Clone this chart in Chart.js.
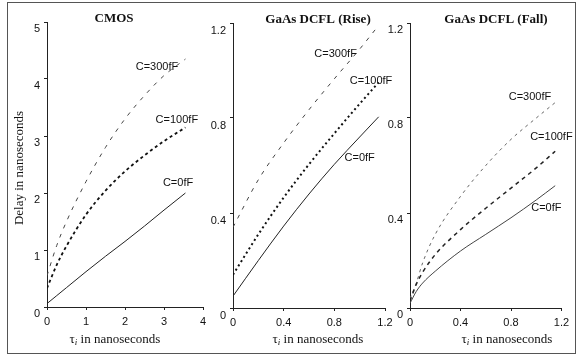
<!DOCTYPE html>
<html><head><meta charset="utf-8">
<script src="https://cdn.jsdelivr.net/npm/chart.js@4.4.1/dist/chart.umd.min.js"></script>
<style>
html,body{margin:0;padding:0;background:#fff;}
#wrap{position:relative;width:577px;height:359px;overflow:hidden;background:#fff;}
#wrap canvas{position:absolute;left:0;top:0;}
#frame{position:absolute;left:7px;top:2px;width:567px;height:350px;border:1px solid #555;pointer-events:none;}
</style></head><body>
<div id="wrap">
<canvas id="c1" width="577" height="359"></canvas>
<canvas id="c2" width="577" height="359"></canvas>
<canvas id="c3" width="577" height="359"></canvas>
<div id="frame"></div>
</div>
<script>
// ---- data ----
const cmosTau  = [0, 0.25, 0.5, 1, 1.5, 2, 2.5, 3, 3.55];
const cmos0    = [0.06, 0.20, 0.34, 0.62, 0.89, 1.15, 1.42, 1.70, 2.00];
const cmos100  = [0.33, 0.74, 1.07, 1.62, 2.04, 2.38, 2.66, 2.91, 3.15];
const cmos300  = [0.55, 1.08, 1.50, 2.20, 2.80, 3.30, 3.71, 4.06, 4.35];

const riseTau  = [0, 0.2, 0.4, 0.6, 0.8, 1.0, 1.15];
const rise0    = [0.05, 0.20, 0.345, 0.48, 0.605, 0.72, 0.805];
const rise100  = [0.14, 0.31, 0.465, 0.605, 0.735, 0.86, 0.95];
const rise300  = [0.34, 0.54, 0.695, 0.835, 0.965, 1.09, 1.19];

const fallTau  = [0, 0.05, 0.1, 0.2, 0.4, 0.6, 0.8, 1.0, 1.15];
const fall0    = [0.02, 0.07, 0.105, 0.155, 0.24, 0.31, 0.38, 0.455, 0.515];
const fall100  = [0.03, 0.10, 0.15, 0.225, 0.33, 0.42, 0.505, 0.59, 0.66];
const fall300  = [0.04, 0.105, 0.19, 0.31, 0.47, 0.60, 0.71, 0.80, 0.865];

const cmosTicksX = [0, 1, 2, 3, 4];
const cmosTicksY = [0, 1, 2, 3, 4, 5];
const gaasTicks  = [0, 0.4, 0.8, 1.2];

const seriesNames = ['C=0fF', 'C=100fF', 'C=300fF'];
const panelTitles = ['CMOS', 'GaAs DCFL (Rise)', 'GaAs DCFL (Fall)'];
const yAxisTitle = 'Delay in nanoseconds';
const xAxisTitle = ' in nanoseconds';

// ---- helpers ----
function pts(xs, ys) { return xs.map((x, i) => ({ x: x, y: ys[i] })); }

const textPlugin = {
  id: 'panelText',
  afterDraw(chart, args, o) {
    const ctx = chart.ctx, xs = chart.scales.x, ys = chart.scales.y;
    ctx.save();
    ctx.fillStyle = '#111';
    ctx.textBaseline = 'middle';
    ctx.font = 'bold 13px "Liberation Serif", serif';
    ctx.textAlign = 'center';
    ctx.fillText(o.title, o.titleX, o.titleY);
    const f1 = '13px "Liberation Serif", serif';
    const f2 = 'italic 9px "Liberation Serif", serif';
    ctx.font = f1; const wT = ctx.measureText('τ').width; const wR = ctx.measureText(xAxisTitle).width;
    ctx.font = f2; const wI = ctx.measureText('i').width;
    let x0 = o.xTitleX - (wT + wI + wR) / 2;
    ctx.textAlign = 'left';
    ctx.font = f1; ctx.fillText('τ', x0, o.xTitleY);
    ctx.font = f2; ctx.fillText('i', x0 + wT, o.xTitleY + 3);
    ctx.font = f1; ctx.fillText(xAxisTitle, x0 + wT + wI, o.xTitleY);
    ctx.textAlign = 'center';
    ctx.font = '11px "Liberation Sans", Arial, sans-serif';
    o.labels.forEach(l => ctx.fillText(l.text, xs.getPixelForValue(l.x), ys.getPixelForValue(l.y)));
    if (o.yTitle) {
      ctx.translate(o.yTitleX, o.yTitleY);
      ctx.rotate(-Math.PI / 2);
      ctx.font = f1;
      ctx.textAlign = 'center';
      ctx.fillText(o.yTitle, 0, 0);
    }
    ctx.restore();
  }
};

function makeScale(min, max, ticks, isY, labelOffset) {
  return {
    type: 'linear', min: min, max: max,
    afterBuildTicks: s => { s.ticks = ticks.map(v => ({ value: v })); },
    afterFit: s => { if (isY) s.width = 40; else s.height = 30; },
    grid: { display: true, drawOnChartArea: false, drawTicks: true, tickLength: 3, color: '#222', lineWidth: 1 },
    border: { display: true, color: '#222', width: 1 },
    ticks: {
      color: '#111', padding: isY ? 4 : 5, labelOffset: labelOffset,
      font: { family: '"Liberation Sans", Arial, sans-serif', size: 11 },
      callback: v => String(Math.round(v * 10) / 10),
      autoSkip: false, maxRotation: 0
    }
  };
}

function makePanel(id, cfg) {
  const W = 577, H = 359;
  new Chart(document.getElementById(id), {
    type: 'scatter',
    data: { datasets: cfg.datasets },
    options: {
      responsive: false, animation: false, devicePixelRatio: 1,
      layout: { padding: { left: cfg.left - 40, right: W - cfg.right, top: cfg.top, bottom: H - cfg.bottom - 30 } },
      plugins: { legend: { display: false }, tooltip: { enabled: false }, panelText: cfg.text },
      scales: {
        x: makeScale(cfg.xmin, cfg.xmax, cfg.xticks, false, 0),
        y: makeScale(cfg.ymin, cfg.ymax, cfg.yticks, true, cfg.yLabelOffset)
      },
      elements: { point: { radius: 0 } }
    },
    plugins: [textPlugin]
  });
}

function ds(data, style) {
  return Object.assign({ data: data, showLine: true, fill: false, pointRadius: 0, cubicInterpolationMode: 'monotone', borderCapStyle: 'butt' }, style);
}

const solid    = { borderColor: '#222', borderWidth: 1 };
const heavyDash = { borderColor: '#111', borderWidth: 1.8, borderDash: [3, 3] };
const heavyDot = { borderColor: '#111', borderWidth: 2, borderDash: [2, 3] };
const thinDash = { borderColor: '#444', borderWidth: 1, borderDash: [4, 6] };

makePanel('c1', {
  left: 47, right: 203, top: 22, bottom: 307,
  xmin: 0, xmax: 4, ymin: 0, ymax: 5, xticks: cmosTicksX, yticks: cmosTicksY, yLabelOffset: 7,
  datasets: [ds(pts(cmosTau, cmos0), solid), ds(pts(cmosTau, cmos100), heavyDash), ds(pts(cmosTau, cmos300), thinDash)],
  text: {
    title: panelTitles[0], titleX: 114, titleY: 19,
    xTitleX: 115, xTitleY: 340,
    yTitle: yAxisTitle, yTitleX: 20, yTitleY: 168,
    labels: [
      { text: seriesNames[0], x: 3.36, y: 2.18 },
      { text: seriesNames[1], x: 3.33, y: 3.28 },
      { text: seriesNames[2], x: 2.82, y: 4.21 }
    ]
  }
});

makePanel('c2', {
  left: 233, right: 385, top: 23, bottom: 308,
  xmin: 0, xmax: 1.2, ymin: 0, ymax: 1.2, xticks: gaasTicks, yticks: gaasTicks, yLabelOffset: 8,
  datasets: [ds(pts(riseTau, rise0), solid), ds(pts(riseTau, rise100), heavyDot), ds(pts(riseTau, rise300), thinDash)],
  text: {
    title: panelTitles[1], titleX: 318, titleY: 20,
    xTitleX: 318, xTitleY: 340,
    labels: [
      { text: seriesNames[0], x: 1.0, y: 0.63 },
      { text: seriesNames[1], x: 1.09, y: 0.955 },
      { text: seriesNames[2], x: 0.81, y: 1.07 }
    ]
  }
});

makePanel('c3', {
  left: 410, right: 561.5, top: 23, bottom: 308,
  xmin: 0, xmax: 1.2, ymin: 0, ymax: 1.2, xticks: gaasTicks, yticks: gaasTicks, yLabelOffset: 7,
  datasets: [
    ds(pts(fallTau, fall0), { borderColor: '#444', borderWidth: 1 }),
    ds(pts(fallTau, fall100), { borderColor: '#222', borderWidth: 1.5, borderDash: [4, 4] }),
    ds(pts(fallTau, fall300), { borderColor: '#666', borderWidth: 1, borderDash: [3, 4] })
  ],
  text: {
    title: panelTitles[2], titleX: 496, titleY: 20,
    xTitleX: 507, xTitleY: 340,
    labels: [
      { text: seriesNames[0], x: 1.08, y: 0.42 },
      { text: seriesNames[1], x: 1.12, y: 0.72 },
      { text: seriesNames[2], x: 0.95, y: 0.89 }
    ]
  }
});
</script>
</body></html>
